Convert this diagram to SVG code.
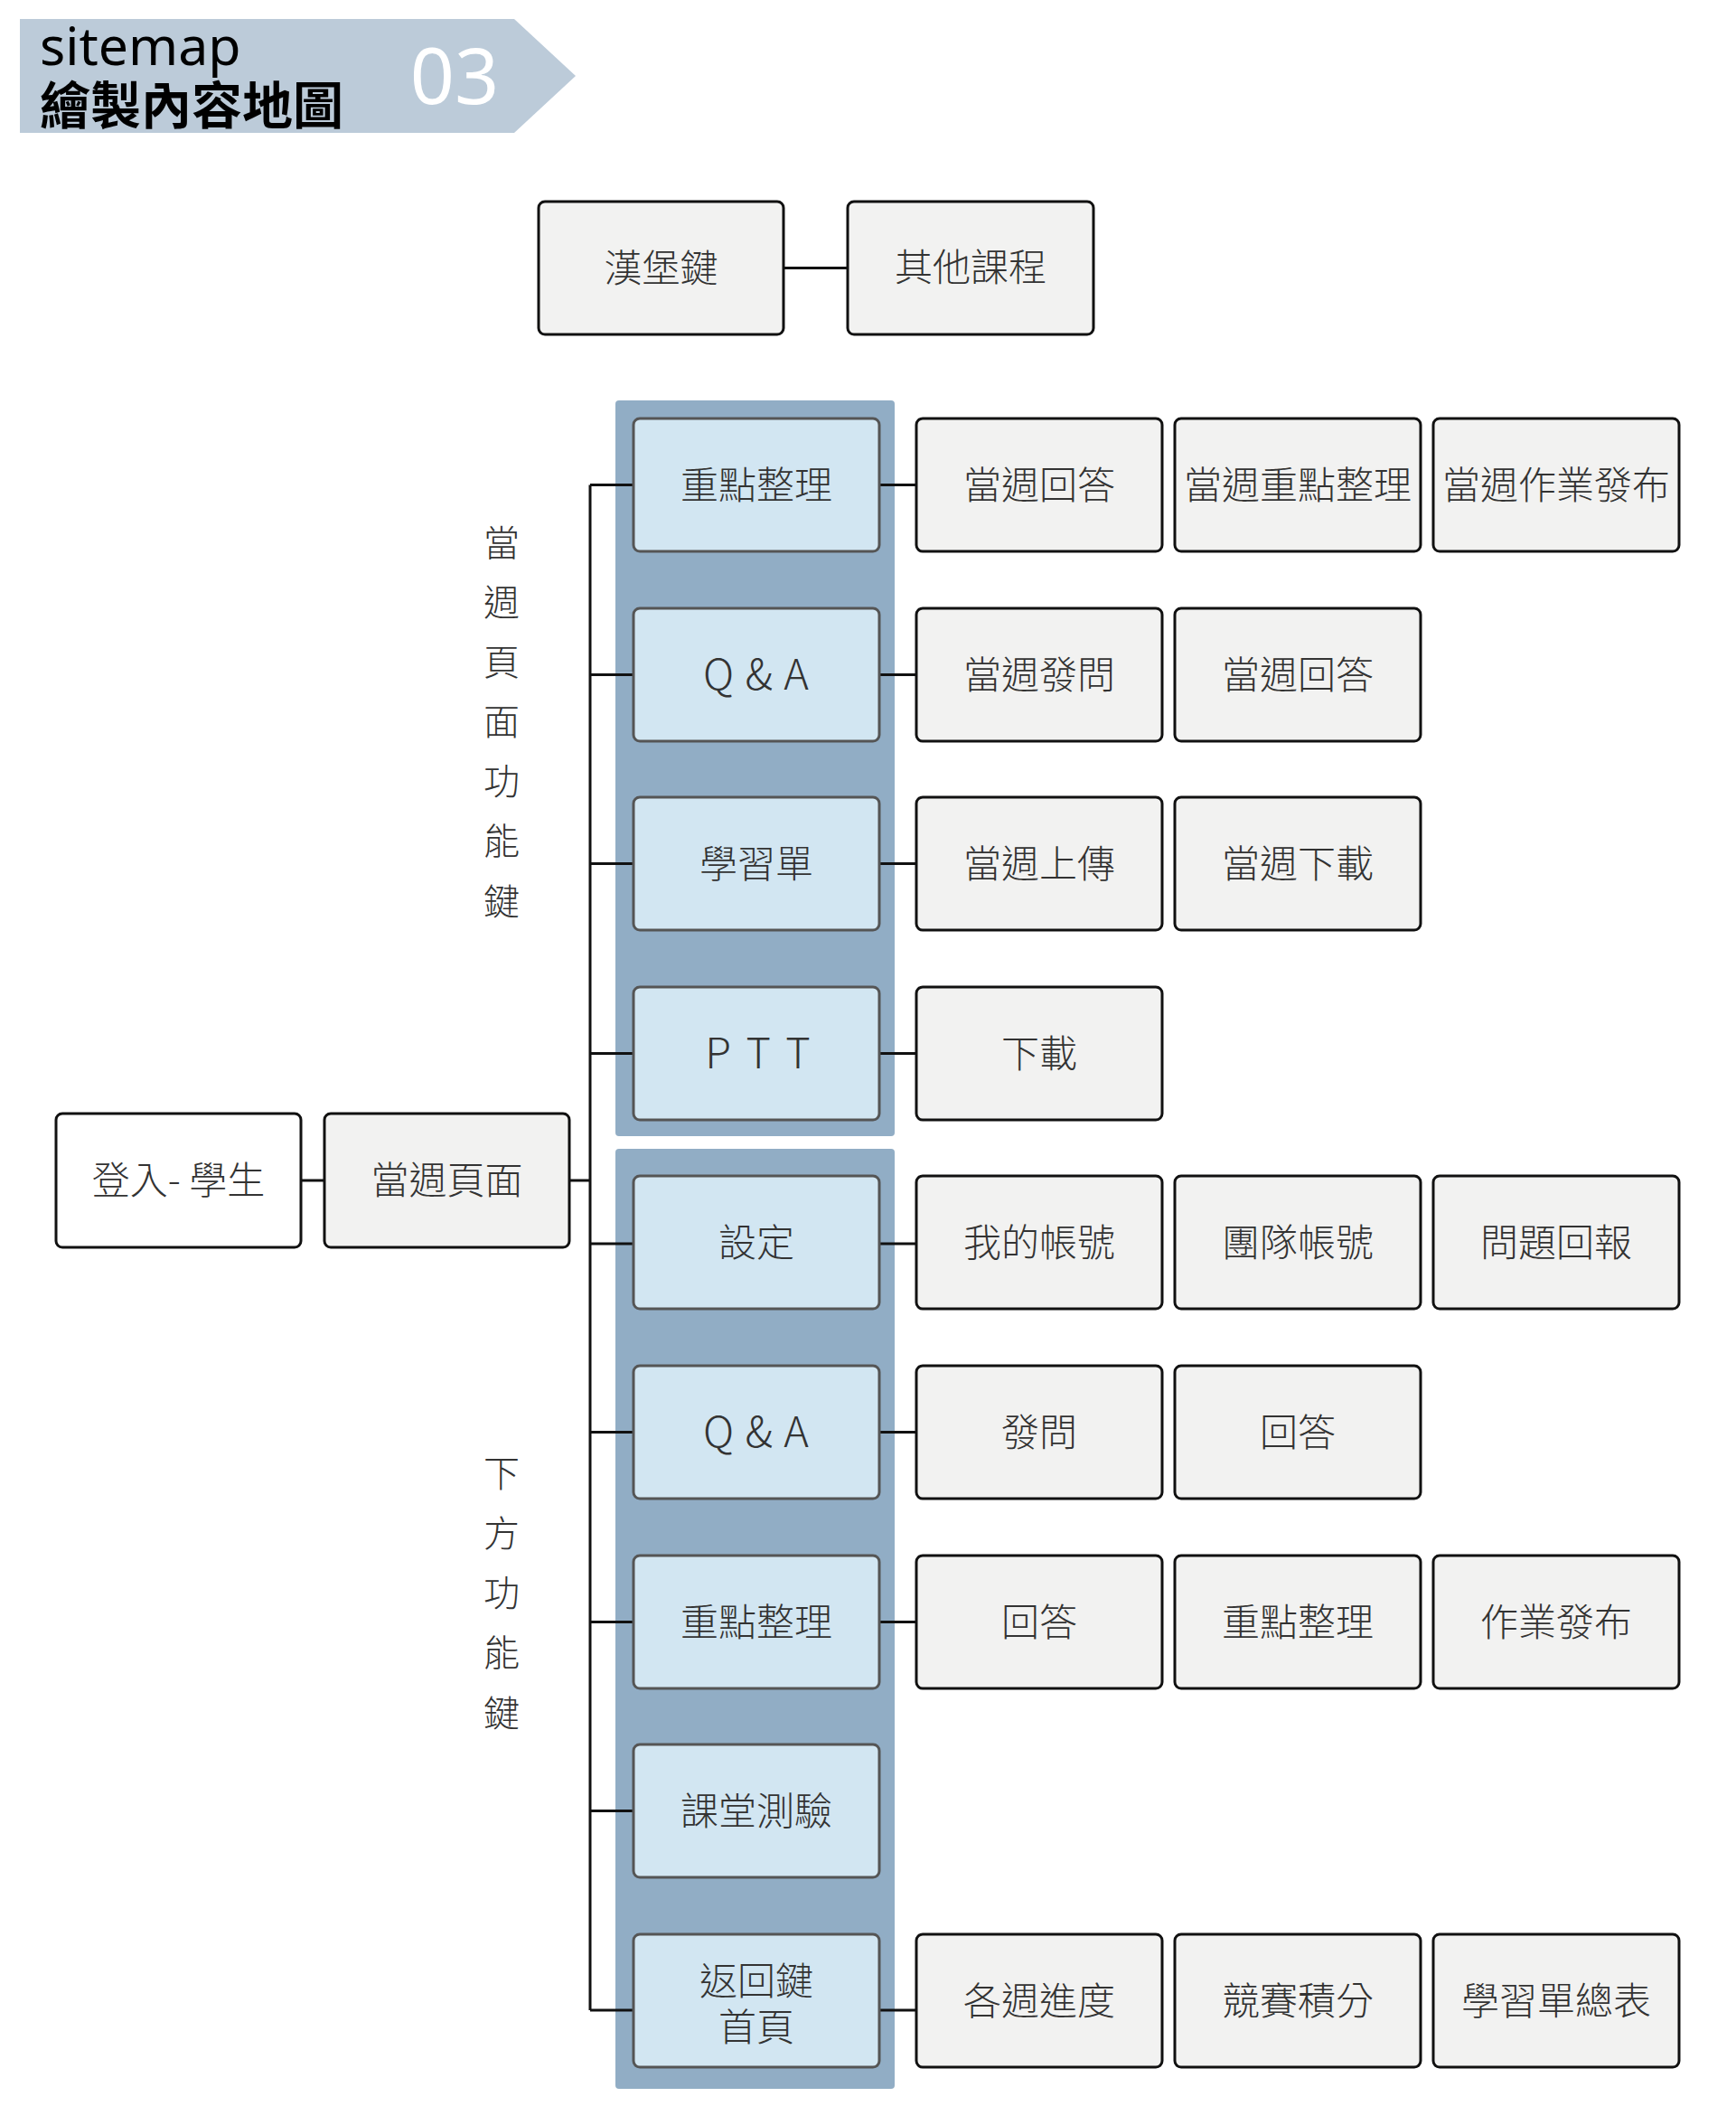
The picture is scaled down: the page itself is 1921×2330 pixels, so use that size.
<svg xmlns="http://www.w3.org/2000/svg" width="1921" height="2330" viewBox="0 0 1921 2330">
<style>
.n{fill:#f2f2f1;stroke:#111;stroke-width:3}
.w{fill:#ffffff;stroke:#111;stroke-width:3}
.b{fill:#d2e6f2;stroke:#555;stroke-width:3}
.bg{fill:#91adc5}
.t{font-family:"Noto Sans CJK TC","Noto Sans CJK SC",sans-serif;font-size:42px;fill:#333;text-anchor:middle;font-weight:300}
.l{font-family:"Noto Sans CJK TC","Noto Sans",sans-serif;font-size:47px;fill:#333;text-anchor:middle;font-weight:300}
.v{font-family:"Noto Sans CJK TC","Noto Sans CJK SC",sans-serif;font-size:40px;fill:#333;text-anchor:middle;font-weight:300}
.c path{stroke:#111;stroke-width:3;fill:none}
</style>
<rect width="1921" height="2330" fill="#ffffff"/>
<g id="banner">
<polygon points="22,21 569,21 637,84 569,147 22,147" fill="#bccbd9"/>
<text x="44" y="72" font-family="'Noto Sans','Open Sans',sans-serif" font-size="59" fill="#000">sitemap</text>
<text x="44" y="137" font-family="'Noto Sans CJK TC','Noto Sans CJK SC',sans-serif" font-size="56" font-weight="700" fill="#000">繪製內容地圖</text>
<text x="503" y="115" font-family="'Noto Sans','Open Sans',sans-serif" font-size="86" fill="#ffffff" text-anchor="middle">03</text>
</g>
<g id="bg-groups">
<rect class="bg" x="681" y="443" width="309" height="814" rx="4"/>
<rect class="bg" x="681" y="1271" width="309" height="1040" rx="4"/>
</g>
<g id="labels">
<text class="v" x="555"><tspan x="555" y="615">當</tspan><tspan x="555" y="681">週</tspan><tspan x="555" y="747">頁</tspan><tspan x="555" y="813">面</tspan><tspan x="555" y="879">功</tspan><tspan x="555" y="945">能</tspan><tspan x="555" y="1012">鍵</tspan></text>
<text class="v" x="555"><tspan x="555" y="1645">下</tspan><tspan x="555" y="1711">方</tspan><tspan x="555" y="1777">功</tspan><tspan x="555" y="1843">能</tspan><tspan x="555" y="1910">鍵</tspan></text>
</g>
<g class="c" id="connectors">
<path d="M867 296.5H938"/>
<path d="M333 1306H359"/>
<path d="M630 1306H653"/>
<path d="M653 536.5V2224"/>
<path d="M653 536.5H701M973 536.5H1014"/>
<path d="M653 746.5H701M973 746.5H1014"/>
<path d="M653 955.5H701M973 955.5H1014"/>
<path d="M653 1165.5H701M973 1165.5H1014"/>
<path d="M653 1376H701M973 1376H1014"/>
<path d="M653 1584.5H701M973 1584.5H1014"/>
<path d="M653 1794.5H701M973 1794.5H1014"/>
<path d="M653 2003.5H701"/>
<path d="M653 2224H701M973 2224H1014"/>
</g>
<g id="hamburger"><rect class="n" x="596" y="223" width="271" height="147" rx="7"/><text class="t" x="731.5" y="312">漢堡鍵</text></g>
<g id="other-courses"><rect class="n" x="938" y="223" width="272" height="147" rx="7"/><text class="t" x="1074" y="311">其他課程</text></g>
<g id="login"><rect class="w" x="62" y="1232" width="271" height="148" rx="7"/><text class="t" x="197.5" y="1321">登入- 學生</text></g>
<g id="week-page"><rect class="n" x="359" y="1232" width="271" height="148" rx="7"/><text class="t" x="494.5" y="1321">當週頁面</text></g>

<g id="r1-main"><rect class="b" x="701" y="463" width="272" height="147" rx="7"/><text class="t" x="837" y="552">重點整理</text></g>
<g id="r1-c3"><rect class="n" x="1014" y="463" width="272" height="147" rx="7"/><text class="t" x="1150" y="552">當週回答</text></g>
<g id="r1-c4"><rect class="n" x="1300" y="463" width="272" height="147" rx="7"/><text class="t" x="1436" y="552">當週重點整理</text></g>
<g id="r1-c5"><rect class="n" x="1586" y="463" width="272" height="147" rx="7"/><text class="t" x="1722" y="552">當週作業發布</text></g>

<g id="r2-main"><rect class="b" x="701" y="673" width="272" height="147" rx="7"/><text class="l" x="837" y="763" letter-spacing="1">Q &amp; A</text></g>
<g id="r2-c3"><rect class="n" x="1014" y="673" width="272" height="147" rx="7"/><text class="t" x="1150" y="762">當週發問</text></g>
<g id="r2-c4"><rect class="n" x="1300" y="673" width="272" height="147" rx="7"/><text class="t" x="1436" y="762">當週回答</text></g>

<g id="r3-main"><rect class="b" x="701" y="882" width="272" height="147" rx="7"/><text class="t" x="837" y="971">學習單</text></g>
<g id="r3-c3"><rect class="n" x="1014" y="882" width="272" height="147" rx="7"/><text class="t" x="1150" y="971">當週上傳</text></g>
<g id="r3-c4"><rect class="n" x="1300" y="882" width="272" height="147" rx="7"/><text class="t" x="1436" y="971">當週下載</text></g>

<g id="r4-main"><rect class="b" x="701" y="1092" width="272" height="147" rx="7"/><text class="l" x="840" y="1182" letter-spacing="3">P T T</text></g>
<g id="r4-c3"><rect class="n" x="1014" y="1092" width="272" height="147" rx="7"/><text class="t" x="1150" y="1181">下載</text></g>

<g id="r5-main"><rect class="b" x="701" y="1301" width="272" height="147" rx="7"/><text class="t" x="837" y="1390">設定</text></g>
<g id="r5-c3"><rect class="n" x="1014" y="1301" width="272" height="147" rx="7"/><text class="t" x="1150" y="1390">我的帳號</text></g>
<g id="r5-c4"><rect class="n" x="1300" y="1301" width="272" height="147" rx="7"/><text class="t" x="1436" y="1390">團隊帳號</text></g>
<g id="r5-c5"><rect class="n" x="1586" y="1301" width="272" height="147" rx="7"/><text class="t" x="1722" y="1390">問題回報</text></g>

<g id="r6-main"><rect class="b" x="701" y="1511" width="272" height="147" rx="7"/><text class="l" x="837" y="1601" letter-spacing="1">Q &amp; A</text></g>
<g id="r6-c3"><rect class="n" x="1014" y="1511" width="272" height="147" rx="7"/><text class="t" x="1150" y="1600">發問</text></g>
<g id="r6-c4"><rect class="n" x="1300" y="1511" width="272" height="147" rx="7"/><text class="t" x="1436" y="1600">回答</text></g>

<g id="r7-main"><rect class="b" x="701" y="1721" width="272" height="147" rx="7"/><text class="t" x="837" y="1810">重點整理</text></g>
<g id="r7-c3"><rect class="n" x="1014" y="1721" width="272" height="147" rx="7"/><text class="t" x="1150" y="1810">回答</text></g>
<g id="r7-c4"><rect class="n" x="1300" y="1721" width="272" height="147" rx="7"/><text class="t" x="1436" y="1810">重點整理</text></g>
<g id="r7-c5"><rect class="n" x="1586" y="1721" width="272" height="147" rx="7"/><text class="t" x="1722" y="1810">作業發布</text></g>

<g id="r8-main"><rect class="b" x="701" y="1930" width="272" height="147" rx="7"/><text class="t" x="837" y="2019">課堂測驗</text></g>

<g id="r9-main"><rect class="b" x="701" y="2140" width="272" height="147" rx="7"/><text class="t" x="837"><tspan x="837" y="2207">返回鍵</tspan><tspan x="837" y="2258">首頁</tspan></text></g>
<g id="r9-c3"><rect class="n" x="1014" y="2140" width="272" height="147" rx="7"/><text class="t" x="1150" y="2229">各週進度</text></g>
<g id="r9-c4"><rect class="n" x="1300" y="2140" width="272" height="147" rx="7"/><text class="t" x="1436" y="2229">競賽積分</text></g>
<g id="r9-c5"><rect class="n" x="1586" y="2140" width="272" height="147" rx="7"/><text class="t" x="1722" y="2229">學習單總表</text></g>
</svg>
